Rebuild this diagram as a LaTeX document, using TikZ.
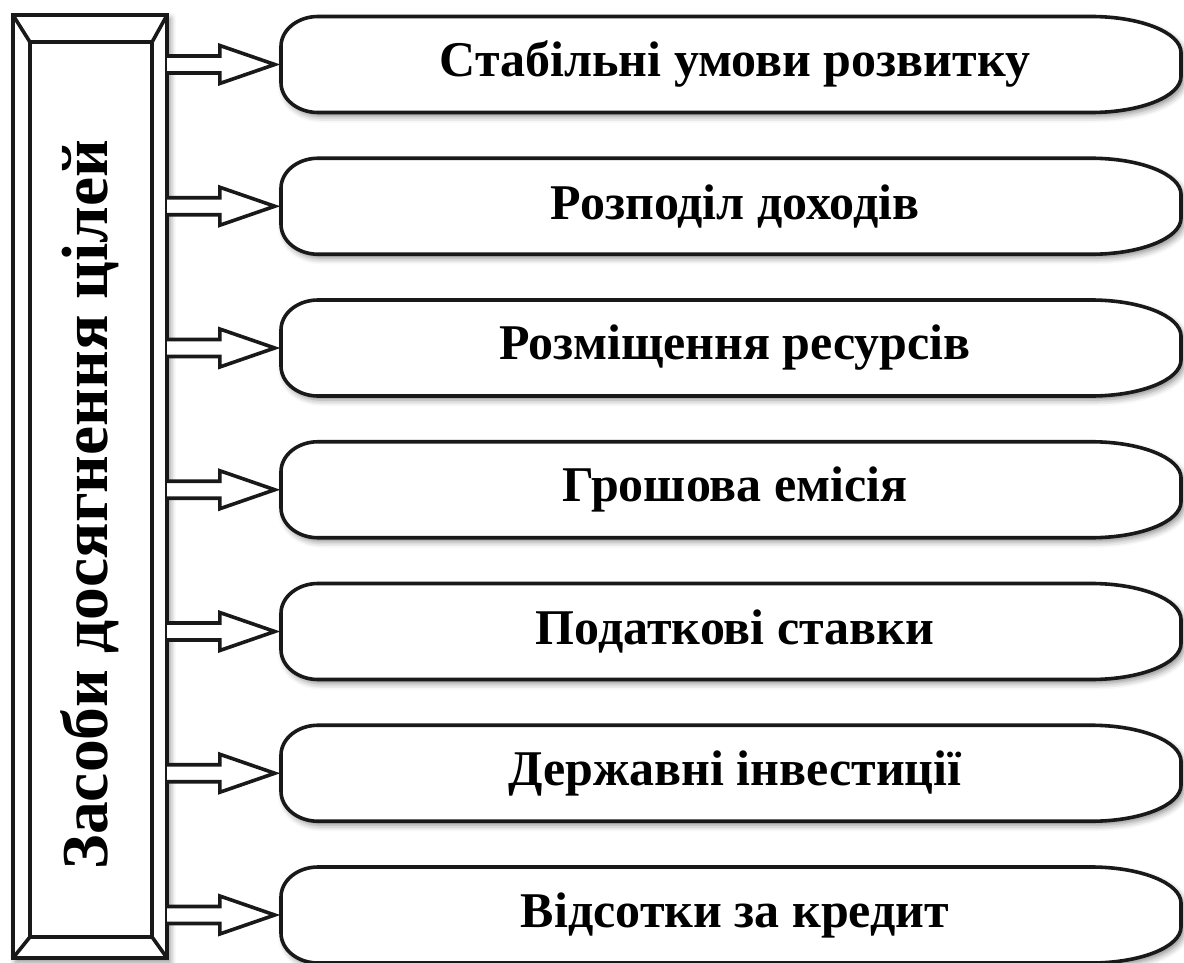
\documentclass[tikz,border=0pt]{standalone}
\usepackage{fontspec}
\setmainfont{Liberation Serif}
\usetikzlibrary{calc,shadows.blur}

\begin{document}
\begin{tikzpicture}[x=1pt,y=-1pt,
  outline/.style={line width=3.6pt, draw=black!90, line join=miter},
  softshadow/.style={blur shadow={shadow xshift=3pt, shadow yshift=-4pt,
      shadow blur radius=6pt, shadow opacity=45}},
  goaltext/.style={font=\bfseries\fontsize{50}{58}\selectfont},
  sidetext/.style={font=\bfseries\fontsize{65.5}{72}\selectfont, rotate=90},
  holder/.style={inner sep=0pt, draw=none, minimum height=96pt, minimum width=900pt}]
\useasboundingbox (0,0) rectangle (1184,963);

% bevelled side panel
\node[inner sep=0pt, minimum width=154pt, minimum height=943pt] (means) at (90,486.5) {};
\draw[outline, fill=white, softshadow] (means.north west) rectangle (means.south east);
\coordinate (inw) at ($(means.north west)+(17,27)$);
\coordinate (ise) at ($(means.south east)+(-15,-21)$);
\draw[outline] (inw) rectangle (ise);
\draw[outline] (means.north west) -- (inw);
\draw[outline] (means.north east) -- (inw -| ise);
\draw[outline] (means.south west) -- (inw |- ise);
\draw[outline] (means.south east) -- (ise);
\node[sidetext] (meanslabel) at ($(means.center)+(0,18)$) {Засоби досягнення цілей};

% goal boxes with hollow arrows
\foreach \i/\txt in {0/Стабільні умови розвитку, 1/Розподіл доходів,
    2/Розміщення ресурсів, 3/Грошова емісія, 4/Податкові ставки,
    5/Державні інвестиції, 6/Відсотки за кредит}{
  \pgfmathsetmacro\cy{64.5+141.75*\i}
  \pgfmathsetmacro\tp{\cy-48}
  \pgfmathsetmacro\bt{\cy+48}
  \pgfmathsetmacro\rb{\bt-36}
  \pgfmathsetmacro\la{\tp+30}
  \node[holder] (g\i) at (731,\cy) {};
  \draw[outline, fill=white, softshadow]
    (318,\tp) -- (1091,\tp) arc[start angle=-90, end angle=0, x radius=90, y radius=36]
    -- (1181,\rb) arc[start angle=0, end angle=90, x radius=90, y radius=36]
    -- (318,\bt) arc[start angle=90, end angle=180, x radius=37, y radius=30]
    -- (281,\la) arc[start angle=180, end angle=270, x radius=37, y radius=30] -- cycle;
  \node[goaltext] (t\i) at ($(g\i.center)+(4,0)$) {\txt};
  \draw[outline, fill=white]
    ($(means.east|-g\i.west)+(0,-8.5)$) -- ($(g\i.west)+(-61,-8.5)$)
    -- ($(g\i.west)+(-61,-19)$) -- ($(g\i.west)+(-6,0)$)
    -- ($(g\i.west)+(-61,19)$) -- ($(g\i.west)+(-61,8.5)$)
    -- ($(means.east|-g\i.west)+(0,8.5)$);
}
\end{tikzpicture}
\end{document}
